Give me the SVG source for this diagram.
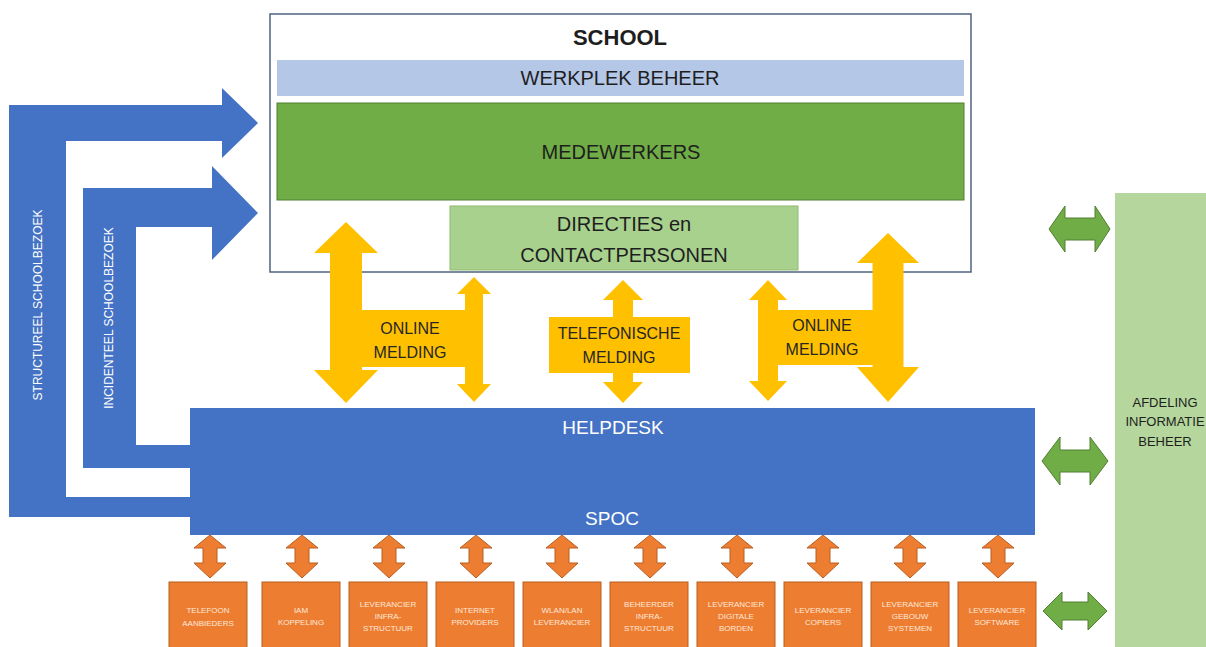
<svg xmlns="http://www.w3.org/2000/svg" width="1206" height="647" viewBox="0 0 1206 647">
<style>
text{font-family:"Liberation Sans",Arial,sans-serif;text-anchor:middle}
.dark{fill:#1e1e1e}
.wh{fill:#ffffff}
.blue{fill:#4472c4}
.yel{fill:#ffc000}
.org{fill:#ed7d31;stroke:#b85f20;stroke-width:1}
.grn{fill:#70ad47;stroke:#507e32;stroke-width:1}
.otx{fill:#fde9d9;font-size:8px}
.ytx{fill:#262626;font-size:16px}
</style>
<defs>
<path id="oarr" d="M0,0 L16,13 L7,13 L7,28 L16,28 L0,43 L-16,28 L-7,28 L-7,13 L-16,13 Z"/>
</defs>
<rect width="1206" height="647" fill="#ffffff"/>

<g id="connectors">
<g id="structureel">
<path class="blue" d="M9,105 L222,105 L222,88 L258,123 L222,158 L222,141 L66,141 L66,497 L190,497 L190,517 L9,517 Z"/>
<text class="wh" font-size="12" transform="translate(42,305) rotate(-90)">STRUCTUREEL SCHOOLBEZOEK</text>
</g>
<g id="incidenteel">
<path class="blue" d="M83,188 L212,188 L212,166 L258,213 L212,260 L212,227 L136,227 L136,445 L190,445 L190,468 L83,468 Z"/>
<text class="wh" font-size="12" transform="translate(113,318) rotate(-90)">INCIDENTEEL SCHOOLBEZOEK</text>
</g>
</g>

<g id="school">
<rect x="270" y="14" width="701" height="258" fill="#ffffff" stroke="#4f6380" stroke-width="1.5"/>
<text class="dark" x="620" y="45" font-size="22" font-weight="bold">SCHOOL</text>
</g>
<g id="werkplek">
<rect x="277" y="60" width="687" height="36" fill="#b4c7e7"/>
<text class="dark" x="620" y="85" font-size="20">WERKPLEK BEHEER</text>
</g>
<g id="medewerkers">
<rect x="277" y="103" width="687" height="97" fill="#70ad47" stroke="#507e32" stroke-width="1"/>
<text class="dark" x="621" y="159" font-size="20">MEDEWERKERS</text>
</g>
<g id="directies">
<rect x="450" y="206" width="348" height="64" fill="#a9d18e" stroke="#8fbc70" stroke-width="1"/>
<text class="dark" x="624" y="231" font-size="20">DIRECTIES en</text>
<text class="dark" x="624" y="262" font-size="20">CONTACTPERSONEN</text>
</g>

<g id="helpdesk">
<rect x="190" y="408" width="845" height="127" fill="#4472c4"/>
<text class="wh" x="613" y="434" font-size="19">HELPDESK</text>
<text class="wh" x="612" y="525" font-size="19">SPOC</text>
</g>

<g id="afdeling">
<rect x="1115" y="193" width="95" height="460" fill="#b5d69c"/>
<text class="dark" x="1165" y="407" font-size="13">AFDELING</text>
<text class="dark" x="1165" y="426" font-size="13">INFORMATIE</text>
<text class="dark" x="1165" y="446" font-size="13">BEHEER</text>
</g>

<g id="yellow-connectors">
<g id="online-melding-1">
<path class="yel" d="M346,222 L378,253 L362,253 L362,370 L378,370 L346,403 L314,370 L330,370 L330,253 L314,253 Z"/>
<rect class="yel" x="361" y="310" width="122" height="57"/>
<path class="yel" d="M474,277 L491,294 L483,294 L483,384 L491,384 L474,402 L457,384 L465,384 L465,294 L457,294 Z"/>
<text class="ytx" x="410" y="334">ONLINE</text>
<text class="ytx" x="410" y="358">MELDING</text>
</g>
<g id="telefonische-melding">
<path class="yel" d="M623,280 L643,300 L633,300 L633,382 L643,382 L623,403 L603,382 L613,382 L613,300 L603,300 Z"/>
<rect class="yel" x="549" y="317" width="141" height="56"/>
<text class="ytx" x="619" y="339">TELEFONISCHE</text>
<text class="ytx" x="619" y="363">MELDING</text>
</g>
<g id="online-melding-2">
<path class="yel" d="M768,280 L787,300 L778,300 L778,381 L787,381 L768,401 L749,381 L758,381 L758,300 L749,300 Z"/>
<rect class="yel" x="777" y="310" width="97" height="55"/>
<path class="yel" d="M888,233 L919,263 L903.5,263 L903.5,367 L919,367 L888,402 L857,367 L872.5,367 L872.5,263 L857,263 Z"/>
<text class="ytx" x="822" y="331">ONLINE</text>
<text class="ytx" x="822" y="355">MELDING</text>
</g>
</g>

<g id="orange-connectors">
<use href="#oarr" class="org" x="210" y="535"/>
<use href="#oarr" class="org" x="302" y="535"/>
<use href="#oarr" class="org" x="389" y="535"/>
<use href="#oarr" class="org" x="476" y="535"/>
<use href="#oarr" class="org" x="562" y="535"/>
<use href="#oarr" class="org" x="650" y="535"/>
<use href="#oarr" class="org" x="737" y="535"/>
<use href="#oarr" class="org" x="823" y="535"/>
<use href="#oarr" class="org" x="910" y="535"/>
<use href="#oarr" class="org" x="998" y="535"/>
</g>

<g id="green-connectors">
<path class="grn" d="M1049,229 L1065,206 L1065,218 L1095,218 L1095,206 L1110,229 L1095,252 L1095,240 L1065,240 L1065,252 Z"/>
<path class="grn" d="M1042,461 L1060,437 L1060,450 L1090,450 L1090,437 L1108,461 L1090,485 L1090,472 L1060,472 L1060,485 Z"/>
<path class="grn" d="M1043,611 L1062,592 L1062,602 L1088,602 L1088,592 L1107,611 L1088,630 L1088,620 L1062,620 L1062,630 Z"/>
</g>

<g id="telefoon"><rect class="org" x="169" y="582" width="78" height="70"/>
<text class="otx" x="208" y="613">TELEFOON</text><text class="otx" x="208" y="626">AANBIEDERS</text></g>
<g id="iam"><rect class="org" x="262" y="582" width="78" height="70"/>
<text class="otx" x="301" y="613">IAM</text><text class="otx" x="301" y="625">KOPPELING</text></g>
<g id="lev-infra"><rect class="org" x="349" y="582" width="78" height="70"/>
<text class="otx" x="388" y="607">LEVERANCIER</text><text class="otx" x="388" y="619">INFRA-</text><text class="otx" x="388" y="631">STRUCTUUR</text></g>
<g id="internet"><rect class="org" x="436" y="582" width="78" height="70"/>
<text class="otx" x="475" y="613">INTERNET</text><text class="otx" x="475" y="625">PROVIDERS</text></g>
<g id="wlan"><rect class="org" x="523" y="582" width="78" height="70"/>
<text class="otx" x="562" y="613">WLAN/LAN</text><text class="otx" x="562" y="625">LEVERANCIER</text></g>
<g id="beheerder"><rect class="org" x="610" y="582" width="78" height="70"/>
<text class="otx" x="649" y="607">BEHEERDER</text><text class="otx" x="649" y="619">INFRA-</text><text class="otx" x="649" y="631">STRUCTUUR</text></g>
<g id="borden"><rect class="org" x="697" y="582" width="78" height="70"/>
<text class="otx" x="736" y="607">LEVERANCIER</text><text class="otx" x="736" y="619">DIGITALE</text><text class="otx" x="736" y="631">BORDEN</text></g>
<g id="copiers"><rect class="org" x="784" y="582" width="78" height="70"/>
<text class="otx" x="823" y="613">LEVERANCIER</text><text class="otx" x="823" y="625">COPIERS</text></g>
<g id="gebouw"><rect class="org" x="871" y="582" width="78" height="70"/>
<text class="otx" x="910" y="607">LEVERANCIER</text><text class="otx" x="910" y="619">GEBOUW</text><text class="otx" x="910" y="631">SYSTEMEN</text></g>
<g id="software"><rect class="org" x="958" y="582" width="78" height="70"/>
<text class="otx" x="997" y="613">LEVERANCIER</text><text class="otx" x="997" y="625">SOFTWARE</text></g>
</svg>
